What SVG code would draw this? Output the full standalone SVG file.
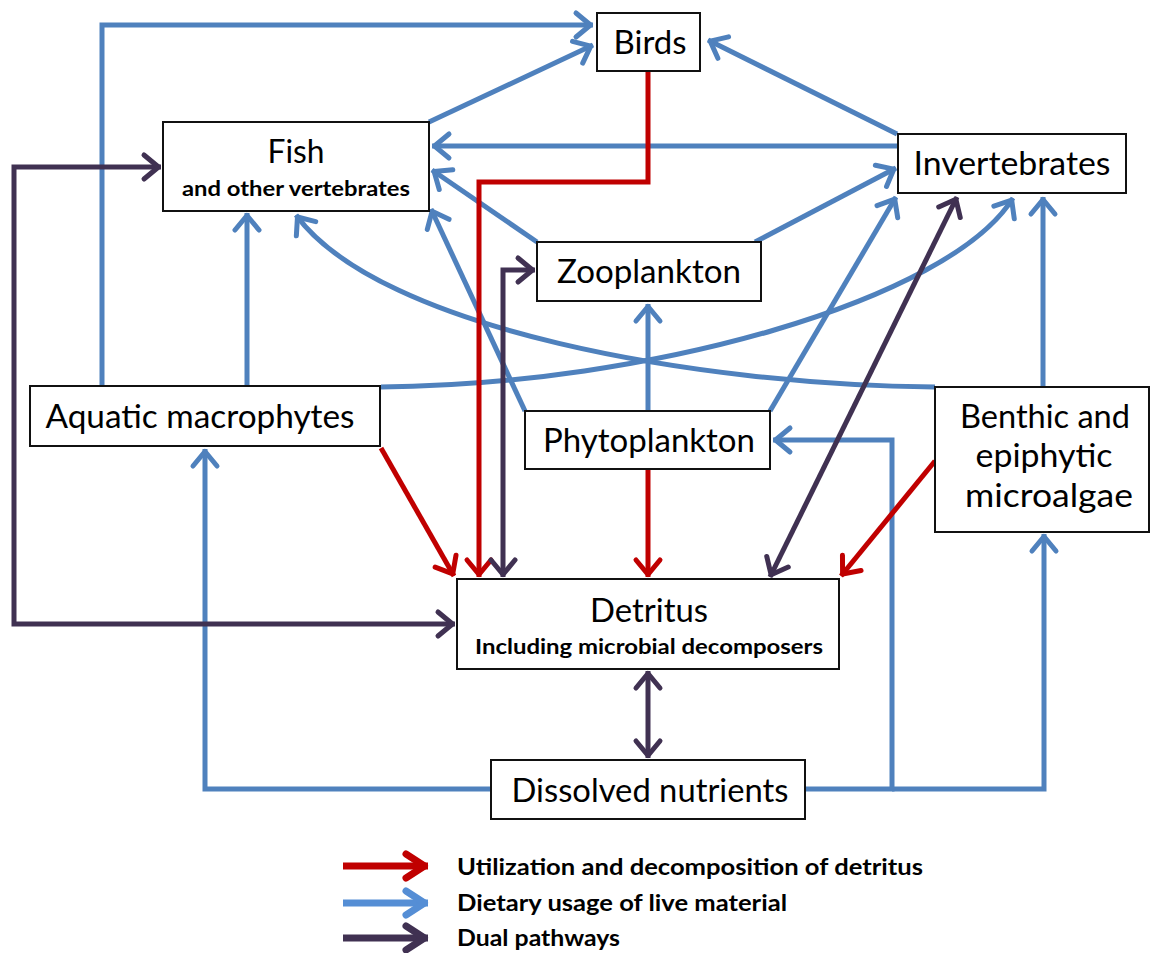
<svg xmlns="http://www.w3.org/2000/svg" width="1151" height="953" viewBox="0 0 1151 953">
<style>
.box{fill:#fff;stroke:#111;stroke-width:2}
.lbl{font-family:Lato,"Open Sans","Liberation Sans",sans-serif;font-size:32px;fill:#000;text-anchor:middle}
.sub{font-family:Lato,"Open Sans","Liberation Sans",sans-serif;font-size:21px;font-weight:bold;fill:#000;text-anchor:middle}
.leg{font-family:Lato,"Open Sans","Liberation Sans",sans-serif;font-size:23px;font-weight:bold;fill:#000}
.c{fill:none;stroke-width:5;stroke-linejoin:miter;stroke-linecap:butt}
.b{stroke:#4F81BD;marker-end:url(#mb)}
.r{stroke:#C00000;marker-end:url(#mr)}
.p{stroke:#403152;marker-end:url(#mp);marker-start:url(#mp)}
</style>
<defs>
<marker id="mb" markerUnits="userSpaceOnUse" viewBox="-30 -20 34 40" refX="0" refY="0" markerWidth="34" markerHeight="40" orient="auto-start-reverse">
<path d="M-17,-12 L-2.5,0 L-17,12" fill="none" stroke="#4F81BD" stroke-width="5" stroke-linecap="round" stroke-linejoin="round"/>
</marker>
<marker id="mr" markerUnits="userSpaceOnUse" viewBox="-30 -20 34 40" refX="0" refY="0" markerWidth="34" markerHeight="40" orient="auto-start-reverse">
<path d="M-17,-12 L-2.5,0 L-17,12" fill="none" stroke="#C00000" stroke-width="5" stroke-linecap="round" stroke-linejoin="round"/>
</marker>
<marker id="mp" markerUnits="userSpaceOnUse" viewBox="-30 -20 34 40" refX="0" refY="0" markerWidth="34" markerHeight="40" orient="auto-start-reverse">
<path d="M-17,-12 L-2.5,0 L-17,12" fill="none" stroke="#403152" stroke-width="5" stroke-linecap="round" stroke-linejoin="round"/>
</marker>
<marker id="lr" markerUnits="userSpaceOnUse" viewBox="-34 -20 38 40" refX="0" refY="0" markerWidth="38" markerHeight="40" orient="auto">
<path d="M-22,-12 L-3.5,0 L-22,12" fill="none" stroke="#C00000" stroke-width="7" stroke-linecap="round" stroke-linejoin="round"/>
</marker>
<marker id="lb" markerUnits="userSpaceOnUse" viewBox="-34 -20 38 40" refX="0" refY="0" markerWidth="38" markerHeight="40" orient="auto">
<path d="M-22,-12 L-3.5,0 L-22,12" fill="none" stroke="#558ED5" stroke-width="7" stroke-linecap="round" stroke-linejoin="round"/>
</marker>
<marker id="lp" markerUnits="userSpaceOnUse" viewBox="-34 -20 38 40" refX="0" refY="0" markerWidth="38" markerHeight="40" orient="auto">
<path d="M-22,-12 L-3.5,0 L-22,12" fill="none" stroke="#403152" stroke-width="7" stroke-linecap="round" stroke-linejoin="round"/>
</marker>
</defs>
<rect width="1151" height="953" fill="#fff"/>
<g id="connectors">
<path class="c b" d="M102,386 V25 H593"/>
<path class="c b" d="M429,122 L593,45"/>
<path class="c b" d="M897,134 L708,40"/>
<path class="c b" d="M897,146 H432"/>
<path class="c b" d="M537,242 L432,170"/>
<path class="c b" d="M525,411 L431,209"/>
<path class="c b" d="M247,386 V213"/>
<path class="c b" d="M935,387 C700,385 380,330 296,215"/>
<path class="c b" d="M381,387 C650,385 950,300 1013,198"/>
<path class="c b" d="M770,411 L896,197"/>
<path class="c b" d="M755,242 L896,168"/>
<path class="c b" d="M648,411 V304"/>
<path class="c b" d="M1043,387 V197"/>
<path class="c b" d="M491,789 H205 V449"/>
<path class="c b" d="M805,789 H892 V440 H773"/>
<path class="c b" d="M892,789 H1044 V534"/>
<path class="c r" d="M648,71 V182 H479 V577"/>
<path class="c r" d="M381,448 L454,576"/>
<path class="c r" d="M648,469 V577"/>
<path class="c r" d="M935,461 L841,576"/>
<path class="c p" d="M770,577 L957,197"/>
<path class="c p" d="M503,577 V270 H535"/>
<path class="c p" d="M161,167 H14 V624 H455"/>
<path class="c p" d="M648,671 V758"/>
</g>
<g id="birds"><rect class="box" x="597" y="13" width="103" height="58"/><text class="lbl" x="650" y="54" textLength="73" lengthAdjust="spacingAndGlyphs">Birds</text></g>
<g id="fish"><rect class="box" x="163" y="122" width="266" height="89"/><text class="lbl" x="296" y="163" textLength="57" lengthAdjust="spacingAndGlyphs">Fish</text><text class="sub" x="296" y="196" textLength="228" lengthAdjust="spacingAndGlyphs">and other vertebrates</text></g>
<g id="invertebrates"><rect class="box" x="898" y="134" width="228" height="59"/><text class="lbl" x="1012" y="175" textLength="197" lengthAdjust="spacingAndGlyphs">Invertebrates</text></g>
<g id="zooplankton"><rect class="box" x="537" y="242" width="224" height="59"/><text class="lbl" x="649" y="283" textLength="184" lengthAdjust="spacingAndGlyphs">Zooplankton</text></g>
<g id="macrophytes"><rect class="box" x="30" y="386" width="350" height="60"/><text class="lbl" x="200" y="428" textLength="309" lengthAdjust="spacingAndGlyphs">Aquatic macrophytes</text></g>
<g id="phytoplankton"><rect class="box" x="525" y="411" width="245" height="58"/><text class="lbl" x="649" y="452" textLength="212" lengthAdjust="spacingAndGlyphs">Phytoplankton</text></g>
<g id="microalgae"><rect class="box" x="935" y="387" width="214" height="145"/><text class="lbl" x="1045" y="428" textLength="170" lengthAdjust="spacingAndGlyphs">Benthic and</text><text class="lbl" x="1044" y="467" textLength="137" lengthAdjust="spacingAndGlyphs">epiphytic</text><text class="lbl" x="1049" y="507" textLength="168" lengthAdjust="spacingAndGlyphs">microalgae</text></g>
<g id="detritus"><rect class="box" x="457" y="579" width="382" height="90"/><text class="lbl" x="649" y="622" textLength="118" lengthAdjust="spacingAndGlyphs">Detritus</text><text class="sub" x="649" y="654" textLength="348" lengthAdjust="spacingAndGlyphs">Including microbial decomposers</text></g>
<g id="nutrients"><rect class="box" x="491" y="760" width="314" height="59"/><text class="lbl" x="650" y="802" textLength="277" lengthAdjust="spacingAndGlyphs">Dissolved nutrients</text></g>
<g id="legend">
<line x1="343" y1="866" x2="428" y2="866" stroke="#C00000" stroke-width="7" marker-end="url(#lr)"/>
<line x1="343" y1="903" x2="428" y2="903" stroke="#558ED5" stroke-width="7" marker-end="url(#lb)"/>
<line x1="343" y1="938" x2="428" y2="938" stroke="#403152" stroke-width="7" marker-end="url(#lp)"/>
<text class="leg" x="457" y="875" textLength="466" lengthAdjust="spacingAndGlyphs">Utilization and decomposition of detritus</text>
<text class="leg" x="457" y="911" textLength="330" lengthAdjust="spacingAndGlyphs">Dietary usage of live material</text>
<text class="leg" x="457" y="946" textLength="163" lengthAdjust="spacingAndGlyphs">Dual pathways</text>
</g>
</svg>
